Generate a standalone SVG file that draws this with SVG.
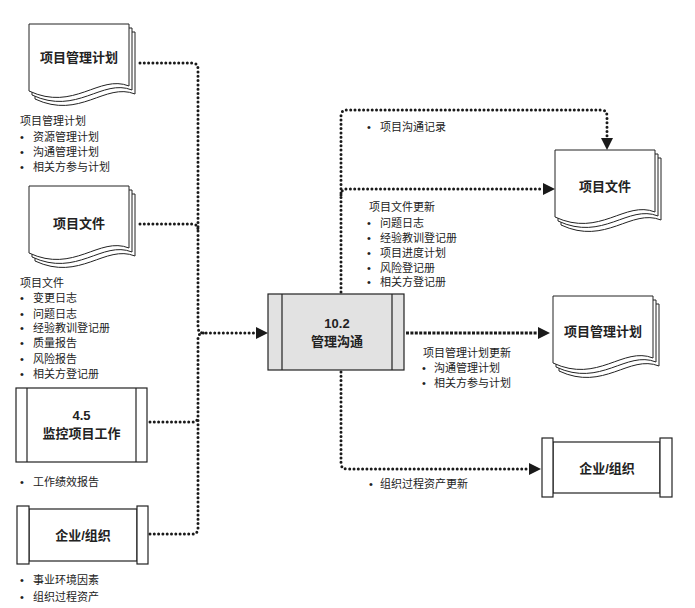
<svg xmlns="http://www.w3.org/2000/svg" xmlns:xlink="http://www.w3.org/1999/xlink" width="695" height="608" viewBox="0 0 695 608">
<style>
text{font-family:"Liberation Sans","Noto Sans CJK SC",sans-serif;fill:#222}
.lbl{font-size:13px;font-weight:bold;text-anchor:middle}
.lst{font-size:11px}
.pg{fill:#fff;stroke:#222;stroke-width:1}
.box{fill:#fff;stroke:#222;stroke-width:1.2}
.proc{fill:#e2e2e2;stroke:#222;stroke-width:1.2}
.dot{fill:none;stroke:#1a1a1a;stroke-width:3;stroke-dasharray:0 4.3;stroke-linecap:round}
.dash{fill:none;stroke:#1a1a1a;stroke-width:3;stroke-dasharray:3 1.4}
</style>
<defs>
<marker id="arr" markerUnits="userSpaceOnUse" markerWidth="14" markerHeight="14" viewBox="0 -7 14 14" refX="0" refY="0" orient="auto">
<path d="M0,-6 L12,0 L0,6 Z" fill="#1a1a1a"/>
</marker>
<path id="page" class="pg" d="M0,0 H100 V62 C70,50 45,88 0,67 Z"/>
<g id="docshape">
<use xlink:href="#page" x="6" y="8"/>
<use xlink:href="#page" x="3" y="4"/>
<use xlink:href="#page" x="0" y="0"/>
</g>
</defs>

<g id="connectors">
<path class="dot" d="M140,63 H192 Q198,63 198,69 V327 Q198,333 204,333 H256" marker-end="url(#arr)"/>
<path class="dot" d="M140,224 H192 Q198,224 198,230"/>
<path class="dot" d="M150,422 H192 Q198,422 198,416"/>
<path class="dot" d="M150,534 H192 Q198,534 198,528 V339 Q198,333 204,333"/>
<path class="dot" d="M341,292 V116 Q341,110 347,110 H601 Q607,110 607,116 V138" marker-end="url(#arr)"/>
<path class="dot" d="M341,195 Q341,189 347,189 H543" marker-end="url(#arr)"/>
<path class="dash" d="M406,333 H538" marker-end="url(#arr)"/>
<path class="dot" d="M341,372 V463 Q341,469 347,469 H529" marker-end="url(#arr)"/>
</g>

<g id="doc-pmp-in">
<use xlink:href="#docshape" x="29" y="24"/>
<text class="lbl" x="79" y="62">项目管理计划</text>
</g>
<g id="list-pmp-in">
<text class="lst" x="20" y="125">项目管理计划</text>
<text class="lst" x="20" y="141">•<tspan x="33">资源管理计划</tspan></text>
<text class="lst" x="20" y="156">•<tspan x="33">沟通管理计划</tspan></text>
<text class="lst" x="20" y="171">•<tspan x="33">相关方参与计划</tspan></text>
</g>

<g id="doc-pd-in">
<use xlink:href="#docshape" x="29" y="186"/>
<text class="lbl" x="79" y="228">项目文件</text>
</g>
<g id="list-pd-in">
<text class="lst" x="20" y="287">项目文件</text>
<text class="lst" x="20" y="302">•<tspan x="33">变更日志</tspan></text>
<text class="lst" x="20" y="318">•<tspan x="33">问题日志</tspan></text>
<text class="lst" x="20" y="332">•<tspan x="33">经验教训登记册</tspan></text>
<text class="lst" x="20" y="347">•<tspan x="33">质量报告</tspan></text>
<text class="lst" x="20" y="363">•<tspan x="33">风险报告</tspan></text>
<text class="lst" x="20" y="378">•<tspan x="33">相关方登记册</tspan></text>
</g>

<g id="proc-45">
<rect class="box" x="16" y="388" width="131" height="74"/>
<line x1="27" y1="388" x2="27" y2="462" stroke="#222" stroke-width="1.2"/>
<line x1="136" y1="388" x2="136" y2="462" stroke="#222" stroke-width="1.2"/>
<text class="lbl" x="81.5" y="420">4.5</text>
<text class="lbl" x="81.5" y="438">监控项目工作</text>
</g>
<g id="list-45">
<text class="lst" x="20" y="486">•<tspan x="33">工作绩效报告</tspan></text>
</g>

<g id="ent-in">
<rect class="box" x="29" y="509" width="108" height="52"/>
<rect class="box" x="17" y="506" width="12" height="58"/>
<rect class="box" x="137" y="506" width="11" height="58"/>
<text class="lbl" x="83" y="540">企业/组织</text>
</g>
<g id="list-ent-in">
<text class="lst" x="20" y="584">•<tspan x="33">事业环境因素</tspan></text>
<text class="lst" x="20" y="601">•<tspan x="33">组织过程资产</tspan></text>
</g>

<g id="proc-102">
<rect class="proc" x="268" y="294" width="136" height="76"/>
<line x1="282" y1="294" x2="282" y2="370" stroke="#222" stroke-width="1.2"/>
<line x1="392" y1="294" x2="392" y2="370" stroke="#222" stroke-width="1.2"/>
<text class="lbl" x="337" y="328">10.2</text>
<text class="lbl" x="337" y="346">管理沟通</text>
</g>

<g id="list-comm">
<text class="lst" x="367" y="131">•<tspan x="380">项目沟通记录</tspan></text>
</g>
<g id="list-pd-out">
<text class="lst" x="369" y="211">项目文件更新</text>
<text class="lst" x="367" y="227">•<tspan x="380">问题日志</tspan></text>
<text class="lst" x="367" y="241.5">•<tspan x="380">经验教训登记册</tspan></text>
<text class="lst" x="367" y="256.5">•<tspan x="380">项目进度计划</tspan></text>
<text class="lst" x="367" y="271.5">•<tspan x="380">风险登记册</tspan></text>
<text class="lst" x="367" y="286">•<tspan x="380">相关方登记册</tspan></text>
</g>

<g id="doc-pd-out">
<use xlink:href="#docshape" x="555" y="150"/>
<text class="lbl" x="605" y="191">项目文件</text>
</g>

<g id="doc-pmp-out">
<use xlink:href="#docshape" x="553" y="296"/>
<text class="lbl" x="603" y="336">项目管理计划</text>
</g>
<g id="list-pmp-out">
<text class="lst" x="423" y="357">项目管理计划更新</text>
<text class="lst" x="422" y="372">•<tspan x="434">沟通管理计划</tspan></text>
<text class="lst" x="422" y="387">•<tspan x="434">相关方参与计划</tspan></text>
</g>

<g id="ent-out">
<rect class="box" x="553" y="442" width="107" height="51"/>
<rect class="box" x="542" y="438" width="11" height="59"/>
<rect class="box" x="660" y="438" width="12" height="59"/>
<text class="lbl" x="607" y="473">企业/组织</text>
</g>
<g id="list-opa">
<text class="lst" x="369" y="488">•<tspan x="380">组织过程资产更新</tspan></text>
</g>
</svg>
